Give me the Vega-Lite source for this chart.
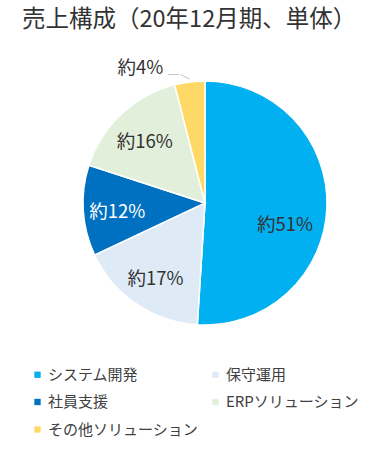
{
  "$schema": "https://vega.github.io/schema/vega-lite/v6.json",
  "autosize": {"type": "none"},
  "width": 244,
  "height": 244,
  "padding": {"left": 83, "top": 81, "right": 44, "bottom": 128},
  "background": "white",
  "config": {
    "view": {"stroke": null},
    "font": "Noto Sans CJK JP"
  },
  "title": {
    "text": "売上構成（20年12月期、単体）",
    "anchor": "start",
    "frame": "group",
    "dx": -61,
    "dy": -24,
    "fontSize": 23.5,
    "fontWeight": "normal",
    "color": "#333333",
    "font": "Noto Sans CJK JP"
  },
  "data": {
    "values": [
      {"category": "システム開発", "value": 51, "label": "約51%", "order": 1},
      {"category": "保守運用", "value": 17, "label": "約17%", "order": 2},
      {"category": "社員支援", "value": 12, "label": "約12%", "order": 3},
      {"category": "ERPソリューション", "value": 16, "label": "約16%", "order": 4},
      {"category": "その他ソリューション", "value": 4, "label": "約4%", "order": 5}
    ]
  },
  "encoding": {
    "theta": {"field": "value", "type": "quantitative", "stack": true},
    "order": {"field": "order", "type": "quantitative"}
  },
  "layer": [
    {
      "mark": {"type": "arc", "stroke": "white", "strokeWidth": 1.5},
      "encoding": {
        "color": {
          "field": "category",
          "type": "nominal",
          "scale": {
            "domain": ["システム開発", "保守運用", "社員支援", "ERPソリューション", "その他ソリューション"],
            "range": ["#00B0F0", "#DEEBF7", "#0070C0", "#E2EFDA", "#FFD966"]
          },
          "legend": {
            "title": null,
            "orient": "none",
            "legendX": -53,
            "legendY": 286,
            "columns": 2,
            "direction": "horizontal",
            "columnPadding": 9,
            "rowPadding": 11.5,
            "padding": 0,
            "symbolType": "square",
            "symbolSize": 40,
            "symbolStrokeWidth": 0,
            "symbolOffset": 0,
            "labelOffset": 3,
            "labelFontSize": 15,
            "labelColor": "#404040",
            "labelFont": "Noto Sans CJK JP",
            "labelLimit": 300
          }
        }
      }
    },
    {
      "mark": {"type": "text", "radius": 88, "dy": 3, "fontSize": 18.5, "font": "Noto Sans CJK JP"},
      "encoding": {
        "text": {
          "condition": {"test": "datum.value > 4 && datum.value < 50", "field": "label"},
          "value": ""
        },
        "color": {
          "condition": {"test": "datum.value == 12", "value": "white"},
          "value": "#333333"
        }
      }
    },
    {
      "mark": {"type": "text", "radius": 80, "dy": 19, "fontSize": 18.5, "color": "#333333", "font": "Noto Sans CJK JP"},
      "encoding": {
        "text": {
          "condition": {"test": "datum.value == 51", "field": "label"},
          "value": ""
        }
      }
    },
    {
      "mark": {"type": "text", "radius": 150, "dx": -23, "dy": 14, "align": "right", "fontSize": 18.5, "color": "#333333", "font": "Noto Sans CJK JP"},
      "encoding": {
        "text": {
          "condition": {"test": "datum.value == 4", "field": "label"},
          "value": ""
        }
      }
    },
    {
      "mark": {"type": "text", "radius": 150, "dx": -12.7, "dy": 20.8, "align": "center", "baseline": "middle", "fontSize": 13, "color": "#A6A6A6", "font": "Noto Sans CJK JP"},
      "encoding": {
        "text": {
          "condition": {"test": "datum.value == 4", "value": "―"},
          "value": ""
        }
      }
    },
    {
      "mark": {"type": "text", "radius": 150, "dx": 9.5, "dy": 21.3, "angle": 27, "align": "center", "baseline": "middle", "fontSize": 12, "color": "#A6A6A6", "font": "Noto Sans CJK JP"},
      "encoding": {
        "text": {
          "condition": {"test": "datum.value == 4", "value": "―"},
          "value": ""
        }
      }
    }
  ]
}
